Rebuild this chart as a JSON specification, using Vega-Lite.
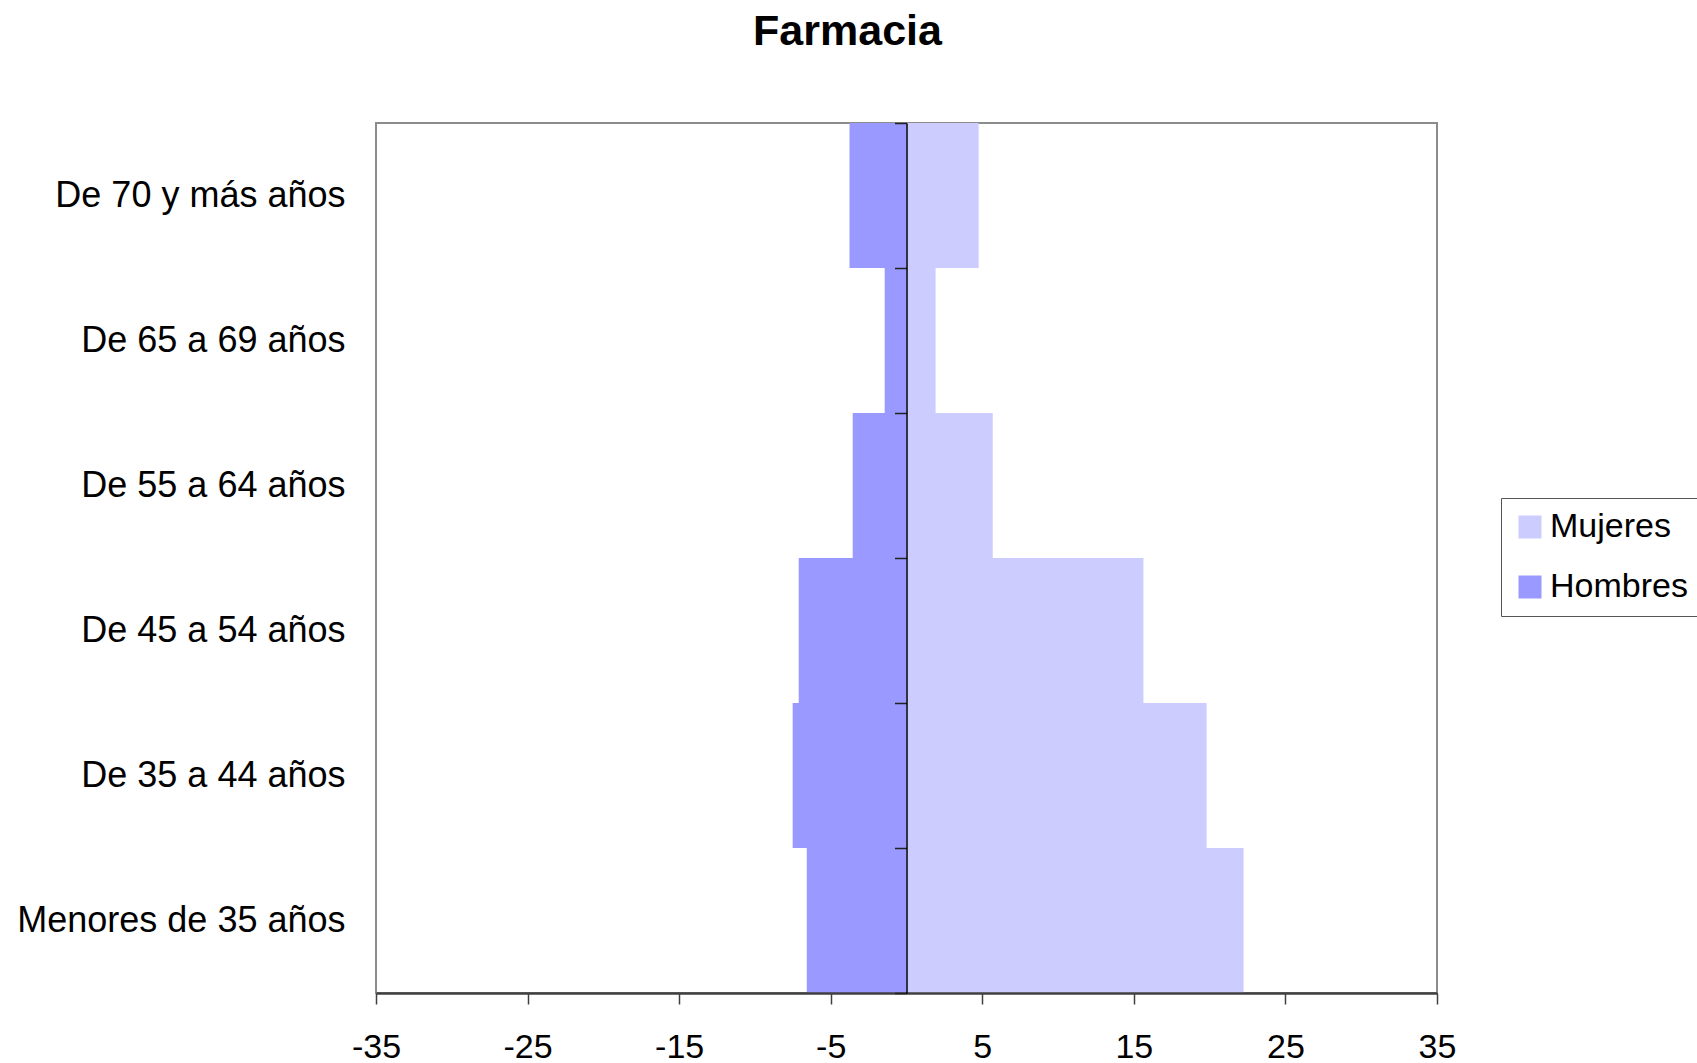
{
  "$schema": "https://vega.github.io/schema/vega-lite/v6.json",
  "autosize": {"type": "none"},
  "padding": {"left": 376, "top": 123, "right": 260, "bottom": 70},
  "width": 1061,
  "height": 870,
  "background": "white",
  "title": {
    "text": "Farmacia",
    "font": "Liberation Sans",
    "fontSize": 43,
    "fontWeight": "bold",
    "color": "#000000",
    "anchor": "middle",
    "frame": "group",
    "baseline": "alphabetic",
    "offset": 17,
    "dx": -59
  },
  "config": {
    "font": "Liberation Sans",
    "view": {"stroke": "#8c8c8c", "strokeWidth": 2}
  },
  "data": {
    "values": [
      {"grupo": "De 70 y más años", "sexo": "Hombres", "valor": -3.76},
      {"grupo": "De 65 a 69 años", "sexo": "Hombres", "valor": -1.44},
      {"grupo": "De 55 a 64 años", "sexo": "Hombres", "valor": -3.55},
      {"grupo": "De 45 a 54 años", "sexo": "Hombres", "valor": -7.11},
      {"grupo": "De 35 a 44 años", "sexo": "Hombres", "valor": -7.51},
      {"grupo": "Menores de 35 años", "sexo": "Hombres", "valor": -6.58},
      {"grupo": "De 70 y más años", "sexo": "Mujeres", "valor": 4.76},
      {"grupo": "De 65 a 69 años", "sexo": "Mujeres", "valor": 1.92},
      {"grupo": "De 55 a 64 años", "sexo": "Mujeres", "valor": 5.69},
      {"grupo": "De 45 a 54 años", "sexo": "Mujeres", "valor": 15.63},
      {"grupo": "De 35 a 44 años", "sexo": "Mujeres", "valor": 19.8},
      {"grupo": "Menores de 35 años", "sexo": "Mujeres", "valor": 22.24}
    ]
  },
  "mark": {"type": "bar", "orient": "horizontal"},
  "encoding": {
    "y": {
      "field": "grupo",
      "type": "nominal",
      "sort": ["De 70 y más años", "De 65 a 69 años", "De 55 a 64 años", "De 45 a 54 años", "De 35 a 44 años", "Menores de 35 años"],
      "scale": {"paddingInner": 0, "paddingOuter": 0},
      "axis": {
        "title": null,
        "orient": "left",
        "offset": -530.5,
        "tickBand": "extent",
        "ticks": true,
        "tickSize": 12,
        "tickColor": "#222222",
        "tickWidth": 1.5,
        "domain": true,
        "domainColor": "#000000",
        "domainWidth": 1.5,
        "labelPadding": 549.5,
        "labelLimit": 800,
        "labelFontSize": 36,
        "labelColor": "#000000",
        "labelFont": "Liberation Sans",
        "zindex": 1
      }
    },
    "x": {
      "field": "valor",
      "type": "quantitative",
      "stack": null,
      "scale": {"domain": [-35, 35], "nice": false},
      "axis": {
        "title": null,
        "values": [-35, -25, -15, -5, 5, 15, 25, 35],
        "labelExpr": "'' + datum.value",
        "labelFlush": false,
        "grid": false,
        "domainColor": "#404040",
        "domainWidth": 2.5,
        "tickColor": "#404040",
        "tickWidth": 1.5,
        "tickSize": 11,
        "labelPadding": 26,
        "labelFontSize": 34,
        "labelColor": "#000000",
        "labelFont": "Liberation Sans",
        "zindex": 1
      }
    },
    "color": {
      "field": "sexo",
      "type": "nominal",
      "scale": {"domain": ["Mujeres", "Hombres"], "range": ["#CCCCFF", "#9999FF"]},
      "legend": {
        "title": null,
        "orient": "none",
        "legendX": 1125,
        "legendY": 375,
        "strokeColor": "#555555",
        "fillColor": "#ffffff",
        "padding": 12,
        "rowPadding": 26,
        "symbolType": "square",
        "symbolSize": 529,
        "symbolStrokeWidth": 0,
        "labelOffset": 3,
        "labelFontSize": 34,
        "labelColor": "#000000",
        "labelFont": "Liberation Sans",
        "labelLimit": 400
      }
    }
  }
}
